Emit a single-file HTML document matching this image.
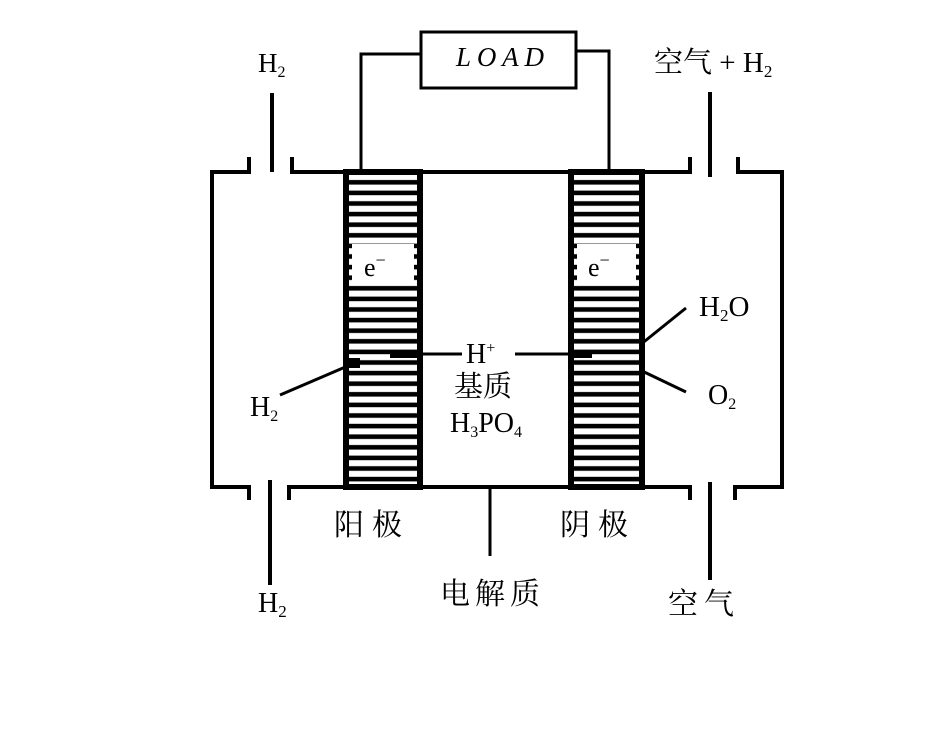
<!DOCTYPE html>
<html><head><meta charset="utf-8"><style>
html,body{margin:0;padding:0;background:#fff;width:940px;height:754px;overflow:hidden}
text{font-family:"Liberation Serif","Noto Serif CJK SC",serif;fill:#000}
</style></head><body>
<svg width="940" height="754" viewBox="0 0 940 754" xmlns="http://www.w3.org/2000/svg">
<defs>
<pattern id="st" x="0" y="170" width="10" height="10.6" patternUnits="userSpaceOnUse">
<rect width="10" height="10.6" fill="#000"/><rect y="4" width="10" height="6" fill="#fff"/>
</pattern>
</defs>
<g fill="none" stroke="#000" stroke-width="4">
<rect x="421" y="32" width="155" height="56" stroke-width="3"/>
<polyline points="421,54 361,54 361,171" stroke-width="3"/>
<polyline points="576,51 609,51 609,171" stroke-width="3"/>
<polyline points="249,157 249,172 212,172 212,487 249,487 249,500"/>
<polyline points="292,157 292,172 690,172 690,157"/>
<polyline points="738,157 738,172 782,172 782,487 735,487 735,500"/>
<polyline points="289,500 289,487 690,487 690,500"/>
<line x1="272" y1="93" x2="272" y2="172"/>
<line x1="710" y1="92" x2="710" y2="177"/>
<line x1="270" y1="480" x2="270" y2="585"/>
<line x1="710" y1="482" x2="710" y2="580"/>
<line x1="490" y1="487" x2="490" y2="556" stroke-width="3"/>
</g>
<rect x="346" y="172" width="74" height="315" fill="url(#st)"/>
<rect x="346" y="172" width="74" height="315" fill="none" stroke="#000" stroke-width="6"/>
<rect x="571" y="172" width="71" height="315" fill="url(#st)"/>
<rect x="571" y="172" width="71" height="315" fill="none" stroke="#000" stroke-width="6"/>
<rect x="352" y="244" width="62" height="38" fill="#fff"/>
<rect x="577" y="244" width="59" height="38" fill="#fff"/>
<g stroke="#000" stroke-width="3">
<line x1="392" y1="354" x2="462" y2="354"/>
<line x1="515" y1="354" x2="585" y2="354"/>
<line x1="280" y1="395" x2="357" y2="362"/>
<line x1="640" y1="345" x2="686" y2="308"/>
<line x1="640" y1="370" x2="686" y2="392"/>
</g>
<rect x="390" y="350" width="30" height="8" fill="#000"/>
<rect x="572" y="350" width="20" height="8" fill="#000"/>
<rect x="346" y="358" width="14" height="10" fill="#000"/>
<text x="456" y="66" font-size="27" font-style="italic" textLength="88">LOAD</text>
<text x="258" y="72" font-size="27">H<tspan font-size="16" dy="5">2</tspan></text>
<text x="654" y="72" font-size="29">空气 + H<tspan font-size="17" dy="5">2</tspan></text>
<text x="364" y="276" font-size="26">e<tspan font-size="18" dy="-10">−</tspan></text>
<text x="588" y="276" font-size="26">e<tspan font-size="18" dy="-10">−</tspan></text>
<text x="699" y="316" font-size="29">H<tspan font-size="17" dy="5">2</tspan><tspan dy="-5">O</tspan></text>
<text x="466" y="363" font-size="28">H<tspan font-size="16" dy="-10">+</tspan></text>
<text x="454" y="396" font-size="29">基质</text>
<text x="450" y="432" font-size="28">H<tspan font-size="16" dy="5">3</tspan><tspan dy="-5">PO</tspan><tspan font-size="16" dy="5">4</tspan></text>
<text x="250" y="416" font-size="28">H<tspan font-size="16" dy="5">2</tspan></text>
<text x="708" y="404" font-size="28">O<tspan font-size="16" dy="5">2</tspan></text>
<text x="334" y="535" font-size="30" letter-spacing="8">阳极</text>
<text x="560" y="535" font-size="30" letter-spacing="8">阴极</text>
<text x="440" y="604" font-size="30" letter-spacing="5">电解质</text>
<text x="258" y="612" font-size="28">H<tspan font-size="17" dy="5">2</tspan></text>
<text x="668" y="614" font-size="30" letter-spacing="6">空气</text>
</svg>
</body></html>
